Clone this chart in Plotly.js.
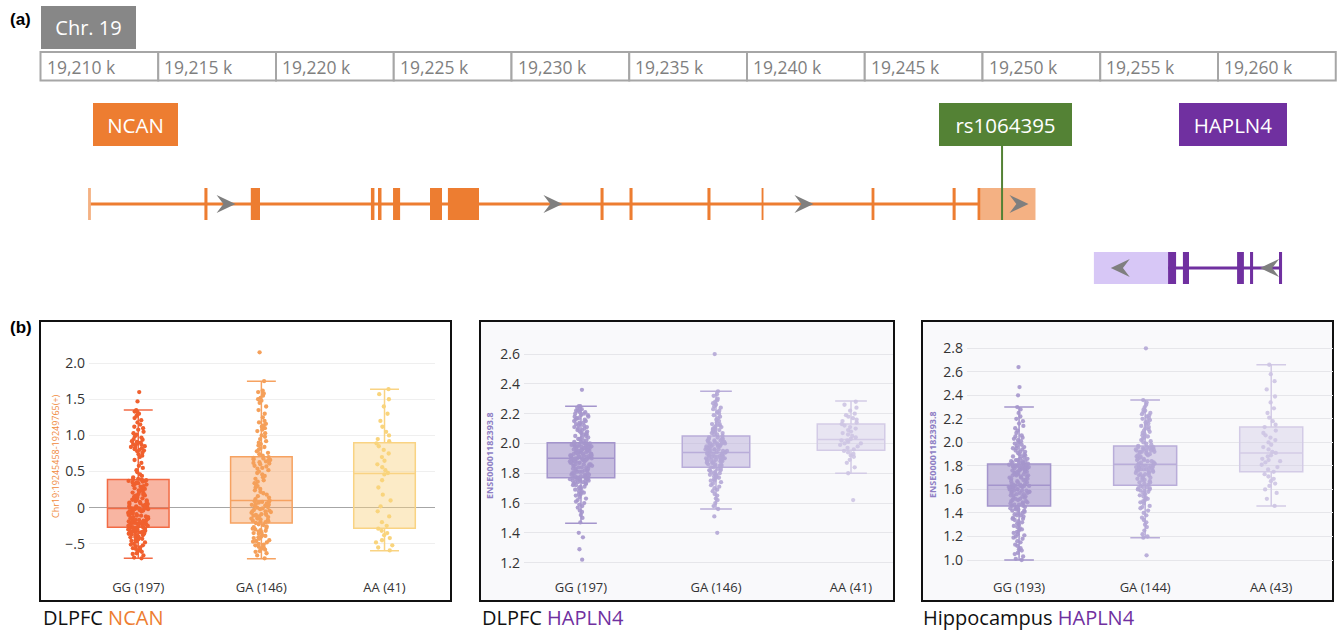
<!DOCTYPE html>
<html><head><meta charset="utf-8">
<script src="https://cdn.plot.ly/plotly-3.0.1.min.js"></script>
<style>html,body{margin:0;padding:0;background:#fff}#chart{width:1341px;height:633px}</style>
</head><body><div id="chart"></div>
<script>
// ================= DATA =================
// genomic ruler (kb on chr19)
const rulerTicks = [19210,19215,19220,19225,19230,19235,19240,19245,19250,19255,19260];
const rulerLabels = ["19,210 k","19,215 k","19,220 k","19,225 k","19,230 k","19,235 k","19,240 k","19,245 k","19,250 k","19,255 k","19,260 k"];
const chromLabel = "Chr. 19";

// NCAN gene model (kb)
const ncanIntron = [19212.08, 19249.85];
const ncanExonStart = [19216.96,19218.93,19224.03,19224.33,19224.97,19226.54,19227.30,19233.78,19235.01,19238.32,19240.62,19245.29,19248.73,19249.79];
const ncanExonEnd   = [19217.09,19219.32,19224.18,19224.48,19225.27,19227.05,19228.62,19233.91,19235.14,19238.45,19240.70,19245.41,19248.86,19249.92];
const ncanUtrStart = [19212.02, 19249.92];
const ncanUtrEnd   = [19212.14, 19252.25];
const ncanArrows = [19217.88, 19231.76, 19242.42, 19251.55];   // strand +

// HAPLN4 gene model (kb)
const haplnIntron = [19257.88, 19262.65];
const haplnExonStart = [19257.88,19258.51,19260.81,19261.36,19262.59];
const haplnExonEnd   = [19258.22,19258.77,19261.10,19261.49,19262.72];
const haplnUtrStart = [19254.73];
const haplnUtrEnd   = [19257.88];
const haplnArrows = [19255.85, 19262.19];   // strand -

// SNP
const snpName = "rs1064395";
const snpPos = 19250.83;

// ---- panel 1: DLPFC NCAN ----
const ncanCats = ["GG (197)","GA (146)","AA (41)"];
const ncanQ1  = [-0.27,-0.21,-0.285];
const ncanMed = [-0.01, 0.10, 0.475];
const ncanQ3  = [ 0.39, 0.705, 0.90];
const ncanLo  = [-0.70,-0.705,-0.595];
const ncanHi  = [ 1.35, 1.75, 1.64];
const ncanGG = [-0.70,-0.69,-0.66,-0.64,-0.63,-0.61,-0.60,-0.59,-0.57,-0.56,-0.55,-0.53,-0.52,-0.51,-0.50,-0.48,-0.47,-0.46,-0.45,-0.44,-0.43,-0.42,-0.41,-0.41,-0.40,-0.39,-0.38,-0.38,-0.37,-0.36,-0.36,-0.35,-0.35,-0.34,-0.34,-0.33,-0.33,-0.32,-0.32,-0.31,-0.31,-0.30,-0.30,-0.30,-0.29,-0.29,-0.28,-0.28,-0.27,
-0.27,-0.26,-0.26,-0.25,-0.25,-0.24,-0.24,-0.23,-0.23,-0.22,-0.22,-0.21,-0.21,-0.20,-0.20,-0.19,-0.19,-0.18,-0.18,-0.17,-0.17,-0.16,-0.15,-0.15,-0.14,-0.13,-0.13,-0.12,-0.11,-0.11,-0.10,-0.09,-0.09,-0.08,-0.07,-0.07,-0.06,-0.05,-0.05,-0.04,-0.04,-0.03,-0.03,-0.02,-0.02,-0.01,-0.01,-0.01,0.00,
0.00,0.01,0.02,0.02,0.03,0.04,0.05,0.05,0.06,0.07,0.08,0.08,0.09,0.10,0.11,0.12,0.12,0.13,0.14,0.15,0.16,0.17,0.17,0.18,0.19,0.20,0.21,0.22,0.23,0.24,0.25,0.26,0.27,0.28,0.29,0.30,0.31,0.32,0.33,0.34,0.35,0.35,0.36,0.37,0.37,0.38,0.38,0.39,0.39,
0.40,0.42,0.44,0.46,0.49,0.52,0.55,0.58,0.62,0.66,0.70,0.72,0.74,0.76,0.78,0.79,0.80,0.81,0.82,0.83,0.84,0.85,0.86,0.87,0.88,0.89,0.90,0.91,0.92,0.94,0.95,0.97,0.99,1.01,1.03,1.05,1.08,1.10,1.12,1.15,1.18,1.21,1.24,1.27,1.30,1.32,1.33,1.35,1.47,1.60];
const ncanGA = [-0.70,-0.66,-0.63,-0.61,-0.60,-0.58,-0.57,-0.55,-0.54,-0.52,-0.51,-0.50,-0.48,-0.47,-0.46,-0.45,-0.43,-0.42,-0.41,-0.40,-0.39,-0.38,-0.36,-0.35,-0.34,-0.33,-0.32,-0.31,-0.30,-0.29,-0.28,-0.27,-0.26,-0.24,-0.23,-0.21,
-0.20,-0.19,-0.19,-0.18,-0.17,-0.16,-0.15,-0.15,-0.14,-0.13,-0.12,-0.11,-0.10,-0.10,-0.09,-0.08,-0.07,-0.06,-0.05,-0.05,-0.04,-0.03,-0.02,-0.01,0.00,0.01,0.02,0.03,0.04,0.04,0.05,0.06,0.07,0.08,0.08,0.09,0.10,
0.12,0.14,0.16,0.18,0.20,0.22,0.24,0.26,0.28,0.30,0.32,0.34,0.36,0.38,0.40,0.42,0.44,0.46,0.48,0.50,0.52,0.54,0.55,0.57,0.58,0.60,0.61,0.62,0.63,0.64,0.65,0.66,0.67,0.68,0.69,0.70,
0.72,0.74,0.76,0.78,0.80,0.82,0.84,0.86,0.88,0.90,0.92,0.95,0.98,1.00,1.03,1.06,1.08,1.10,1.12,1.14,1.16,1.18,1.20,1.25,1.30,1.35,1.40,1.45,1.48,1.50,1.52,1.55,1.58,1.60,1.62,1.75,2.15];
const ncanAA = [-0.59,-0.55,-0.52,-0.48,-0.45,-0.42,-0.38,-0.35,-0.32,-0.29,-0.25,-0.20,-0.12,-0.05,0.02,0.10,0.18,0.28,0.38,0.46,0.48,0.52,0.56,0.60,0.65,0.70,0.75,0.80,0.85,0.89,0.92,0.95,1.00,1.05,1.12,1.20,1.30,1.40,1.50,1.57,1.64];

// ---- panel 2: DLPFC HAPLN4 ----
const dlpfcCats = ["GG (197)","GA (146)","AA (41)"];
const dlpfcQ1  = [1.77, 1.84, 1.955];
const dlpfcMed = [1.90, 1.94, 2.027];
const dlpfcQ3  = [2.005, 2.05, 2.13];
const dlpfcLo  = [1.465, 1.56, 1.80];
const dlpfcHi  = [2.25, 2.35, 2.285];
const dlpfcGG = [1.22,1.29,1.37,1.40,1.47,1.50,1.52,1.54,1.55,1.57,1.58,1.59,1.60,1.61,1.62,1.63,1.64,1.65,1.66,1.66,1.67,1.68,1.68,1.69,1.70,1.70,1.71,1.71,1.72,1.72,1.73,1.73,1.73,1.74,1.74,1.74,1.75,1.75,1.75,1.75,1.76,1.76,1.76,1.76,1.77,1.77,1.77,1.77,1.77,
1.78,1.78,1.78,1.79,1.79,1.79,1.80,1.80,1.80,1.81,1.81,1.81,1.82,1.82,1.82,1.83,1.83,1.83,1.84,1.84,1.84,1.85,1.85,1.85,1.85,1.86,1.86,1.86,1.86,1.87,1.87,1.87,1.87,1.88,1.88,1.88,1.88,1.88,1.89,1.89,1.89,1.89,1.89,1.90,1.90,1.90,1.90,1.90,1.90,
1.91,1.91,1.91,1.91,1.91,1.92,1.92,1.92,1.92,1.92,1.93,1.93,1.93,1.93,1.93,1.94,1.94,1.94,1.94,1.94,1.95,1.95,1.95,1.95,1.95,1.96,1.96,1.96,1.96,1.96,1.97,1.97,1.97,1.97,1.97,1.98,1.98,1.98,1.98,1.98,1.99,1.99,1.99,1.99,1.99,2.00,2.00,2.00,2.00,
2.01,2.01,2.02,2.02,2.03,2.03,2.04,2.04,2.05,2.05,2.06,2.06,2.07,2.07,2.08,2.08,2.09,2.09,2.10,2.10,2.11,2.11,2.12,2.12,2.13,2.13,2.14,2.14,2.15,2.15,2.16,2.16,2.17,2.17,2.18,2.18,2.19,2.19,2.20,2.20,2.21,2.21,2.22,2.22,2.23,2.23,2.24,2.25,2.25,2.36];
const dlpfcGA = [1.40,1.51,1.56,1.58,1.60,1.62,1.63,1.65,1.66,1.68,1.69,1.70,1.71,1.72,1.73,1.74,1.75,1.75,1.76,1.77,1.77,1.78,1.78,1.79,1.79,1.80,1.80,1.81,1.81,1.82,1.82,1.82,1.83,1.83,1.84,1.84,
1.85,1.85,1.85,1.86,1.86,1.86,1.87,1.87,1.87,1.88,1.88,1.88,1.88,1.89,1.89,1.89,1.89,1.90,1.90,1.90,1.90,1.91,1.91,1.91,1.91,1.92,1.92,1.92,1.92,1.93,1.93,1.93,1.93,1.94,1.94,1.94,1.94,
1.95,1.95,1.95,1.95,1.96,1.96,1.96,1.96,1.97,1.97,1.97,1.97,1.98,1.98,1.98,1.98,1.99,1.99,1.99,1.99,2.00,2.00,2.00,2.00,2.01,2.01,2.01,2.02,2.02,2.02,2.03,2.03,2.03,2.04,2.04,2.05,
2.06,2.06,2.07,2.07,2.08,2.08,2.09,2.09,2.10,2.10,2.11,2.11,2.12,2.12,2.13,2.13,2.14,2.15,2.16,2.17,2.18,2.19,2.20,2.21,2.22,2.23,2.24,2.25,2.26,2.27,2.28,2.29,2.30,2.32,2.33,2.35,2.60];
const dlpfcAA = [1.62,1.80,1.84,1.87,1.89,1.91,1.92,1.93,1.94,1.95,1.96,1.97,1.98,1.99,2.00,2.00,2.01,2.02,2.02,2.03,2.04,2.05,2.06,2.07,2.08,2.09,2.10,2.11,2.12,2.13,2.14,2.15,2.16,2.17,2.18,2.19,2.20,2.22,2.24,2.26,2.28];

// ---- panel 3: Hippocampus HAPLN4 ----
const hippoCats = ["GG (193)","GA (144)","AA (43)"];
const hippoQ1  = [1.46, 1.635, 1.75];
const hippoMed = [1.635, 1.815, 1.91];
const hippoQ3  = [1.817, 1.97, 2.13];
const hippoLo  = [1.00, 1.19, 1.46];
const hippoHi  = [2.30, 2.36, 2.66];
const hippoGG = [1.00,1.01,1.03,1.05,1.06,1.08,1.09,1.10,1.12,1.13,1.15,1.16,1.18,1.19,1.20,1.21,1.22,1.23,1.24,1.25,1.26,1.27,1.28,1.29,1.30,1.31,1.32,1.33,1.34,1.35,1.35,1.36,1.37,1.38,1.38,1.39,1.40,1.40,1.41,1.42,1.42,1.43,1.43,1.44,1.44,1.45,1.45,1.46,
1.46,1.47,1.47,1.48,1.48,1.49,1.49,1.50,1.50,1.51,1.51,1.52,1.52,1.53,1.53,1.54,1.54,1.55,1.55,1.56,1.56,1.57,1.57,1.57,1.58,1.58,1.58,1.59,1.59,1.59,1.60,1.60,1.60,1.61,1.61,1.61,1.62,1.62,1.62,1.62,1.63,1.63,1.63,1.63,1.63,1.63,1.64,1.64,
1.65,1.65,1.66,1.66,1.67,1.67,1.68,1.68,1.69,1.69,1.70,1.70,1.71,1.71,1.72,1.72,1.72,1.73,1.73,1.73,1.74,1.74,1.74,1.75,1.75,1.75,1.76,1.76,1.76,1.77,1.77,1.77,1.78,1.78,1.78,1.78,1.79,1.79,1.79,1.79,1.80,1.80,1.80,1.80,1.81,1.81,1.81,1.82,
1.82,1.83,1.83,1.83,1.84,1.84,1.84,1.85,1.85,1.86,1.86,1.87,1.88,1.88,1.89,1.90,1.90,1.91,1.92,1.92,1.93,1.94,1.95,1.95,1.96,1.97,1.98,1.99,2.00,2.01,2.02,2.03,2.04,2.05,2.06,2.08,2.10,2.12,2.14,2.16,2.18,2.20,2.22,2.25,2.28,2.30,2.40,2.47,2.64];
const hippoGA = [1.04,1.19,1.20,1.22,1.25,1.28,1.30,1.32,1.34,1.36,1.38,1.40,1.42,1.44,1.45,1.46,1.48,1.49,1.50,1.51,1.52,1.53,1.54,1.55,1.56,1.57,1.58,1.59,1.59,1.60,1.60,1.61,1.61,1.62,1.62,1.63,
1.64,1.65,1.66,1.66,1.67,1.68,1.68,1.69,1.70,1.70,1.71,1.72,1.72,1.73,1.73,1.74,1.74,1.75,1.75,1.76,1.76,1.76,1.77,1.77,1.77,1.78,1.78,1.78,1.79,1.79,1.79,1.80,1.80,1.80,1.81,1.81,
1.82,1.82,1.83,1.83,1.84,1.84,1.85,1.85,1.86,1.86,1.87,1.87,1.88,1.88,1.89,1.89,1.90,1.90,1.91,1.91,1.92,1.92,1.92,1.93,1.93,1.93,1.94,1.94,1.94,1.95,1.95,1.95,1.96,1.96,1.96,1.97,
1.98,1.99,2.00,2.01,2.02,2.03,2.04,2.05,2.06,2.07,2.08,2.09,2.10,2.11,2.12,2.13,2.14,2.15,2.16,2.17,2.18,2.19,2.20,2.21,2.22,2.23,2.24,2.25,2.26,2.27,2.28,2.30,2.32,2.34,2.36,2.80];
const hippoAA = [1.46,1.52,1.57,1.60,1.63,1.65,1.67,1.69,1.71,1.73,1.75,1.77,1.79,1.81,1.83,1.84,1.85,1.86,1.88,1.89,1.91,1.92,1.94,1.96,1.98,2.00,2.02,2.04,2.06,2.08,2.10,2.13,2.15,2.18,2.21,2.25,2.29,2.34,2.39,2.45,2.52,2.58,2.66];

const ncanTickVals = [-0.5,0,0.5,1,1.5,2];
const ncanTickText = ["\u2212.5","0","0.5","1.0","1.5","2.0"];

// ================= STYLE / LAYOUT =================
const W = 1341, H = 633;
const PX = v => v / W, PY = v => 1 - v / H;
const FONT = "Open Sans, sans-serif";
const ORANGE = "#ED7D31", ORANGE_L = "#F4B183", PURPLE = "#7030A0", PURPLE_L = "#D7C7F6", GREEN = "#548235", ARROW = "#7F7F7F";
const kbPerPx = 1 / 23.55;

// genomic track rows (in pixel-like units of the hidden track axis)
const ROW = {rulerTop: 52, rulerBot: 80.5, label: 124.5, ncan: 204, ncanH: 16, hap: 268, hapH: 16};

const shapes = [];
const annotations = [];

// panel frames
const frames = [
  {x0: 40, x1: 451, fill: "#FFFFFF"},
  {x0: 480, x1: 894, fill: "#F9F9FB"},
  {x0: 922, x1: 1333, fill: "#F9F9FB"}
];
frames.forEach(f => shapes.push({type: "rect", xref: "paper", yref: "paper", x0: PX(f.x0), x1: PX(f.x1), y0: PY(601), y1: PY(321),
  line: {color: "#111", width: 2}, fillcolor: f.fill, layer: "below"}));

// ruler
const step = rulerTicks[1] - rulerTicks[0];
rulerTicks.forEach((t, i) => {
  shapes.push({type: "rect", xref: "x", yref: "y", x0: t, x1: t + step, y0: ROW.rulerTop, y1: ROW.rulerBot,
    line: {color: "#A6A6A6", width: 2}, fillcolor: "#FFFFFF"});
  annotations.push({xref: "x", yref: "y", x: t, y: 66.5, xanchor: "left", yanchor: "middle", xshift: 4, showarrow: false,
    text: rulerLabels[i], font: {family: FONT, size: 17.5, color: "#7F7F7F"}});
});

// chromosome label
annotations.push({xref: "x", yref: "y", x: rulerTicks[0] + 47.5 * kbPerPx, y: 27.5, xanchor: "center", yanchor: "middle", showarrow: false, text: chromLabel,
  bgcolor: "#878787", width: 95, height: 43, borderpad: 0, borderwidth: 0, font: {family: FONT, size: 20, color: "#FFFFFF"}});

// gene labels
function geneLabel(x, text, color, w) {
  annotations.push({xref: "x", yref: "y", x: x, y: ROW.label, xanchor: "center", yanchor: "middle", showarrow: false, text: text, bgcolor: color,
    width: w, height: 43, borderpad: 0, borderwidth: 0, font: {family: FONT, size: 20.5, color: "#FFFFFF"}});
}
geneLabel(19214.03, "NCAN", ORANGE, 85);
geneLabel(19250.98, snpName, GREEN, 133);
geneLabel(19260.62, "HAPLN4", PURPLE, 108);

// NCAN model
shapes.push({type: "line", xref: "x", yref: "y", x0: ncanIntron[0], x1: ncanIntron[1], y0: ROW.ncan, y1: ROW.ncan, line: {color: ORANGE, width: 3}});
ncanUtrStart.forEach((s, i) => shapes.push({type: "rect", xref: "x", yref: "y", x0: s, x1: ncanUtrEnd[i], y0: ROW.ncan - ROW.ncanH, y1: ROW.ncan + ROW.ncanH, line: {width: 0}, fillcolor: ORANGE_L}));
ncanExonStart.forEach((s, i) => shapes.push({type: "rect", xref: "x", yref: "y", x0: s, x1: ncanExonEnd[i], y0: ROW.ncan - ROW.ncanH, y1: ROW.ncan + ROW.ncanH, line: {width: 0}, fillcolor: ORANGE}));

// HAPLN4 model
haplnUtrStart.forEach((s, i) => shapes.push({type: "rect", xref: "x", yref: "y", x0: s, x1: haplnUtrEnd[i], y0: ROW.hap - ROW.hapH, y1: ROW.hap + ROW.hapH, line: {width: 0}, fillcolor: PURPLE_L}));
shapes.push({type: "line", xref: "x", yref: "y", x0: haplnIntron[0], x1: haplnIntron[1], y0: ROW.hap, y1: ROW.hap, line: {color: PURPLE, width: 3}});
haplnExonStart.forEach((s, i) => shapes.push({type: "rect", xref: "x", yref: "y", x0: s, x1: haplnExonEnd[i], y0: ROW.hap - ROW.hapH, y1: ROW.hap + ROW.hapH, line: {width: 0}, fillcolor: PURPLE}));

// SNP line
shapes.push({type: "line", xref: "x", yref: "y", x0: snpPos, x1: snpPos, y0: ROW.label + 21.5, y1: ROW.ncan + ROW.ncanH, line: {color: GREEN, width: 2}});

// strand arrows
const aw = 19 * kbPerPx, ah = 9;
function arrow(cx, dir, yc) {
  const tip = cx + dir * aw / 2, back = cx - dir * aw / 2, notch = cx - dir * aw * 0.14;
  shapes.push({type: "path", xref: "x", yref: "y", path: `M${tip},${yc} L${back},${yc - ah} L${notch},${yc} L${back},${yc + ah} Z`, fillcolor: ARROW, line: {width: 0}});
}
ncanArrows.forEach(a => arrow(a, 1, ROW.ncan));
haplnArrows.forEach(a => arrow(a, -1, ROW.hap));

// panel letters
annotations.push({xref: "paper", yref: "paper", x: PX(8), y: PY(19), xanchor: "left", yanchor: "middle", showarrow: false, text: "<b>(a)</b>", font: {family: "Liberation Sans, Arial, sans-serif", size: 17, color: "#000"}});
annotations.push({xref: "paper", yref: "paper", x: PX(8), y: PY(328), xanchor: "left", yanchor: "middle", showarrow: false, text: "<b>(b)</b>", font: {family: "Liberation Sans, Arial, sans-serif", size: 17, color: "#000"}});

// panel titles
const titles = [
  {x: 41, t: "DLPFC <span style='color:" + ORANGE + "'>NCAN</span>"},
  {x: 480, t: "DLPFC <span style='color:" + PURPLE + "'>HAPLN4</span>"},
  {x: 921, t: "Hippocampus <span style='color:" + PURPLE + "'>HAPLN4</span>"}
];
titles.forEach(o => annotations.push({xref: "paper", yref: "paper", x: PX(o.x), y: PY(617), xanchor: "left", yanchor: "middle", showarrow: false, text: o.t, font: {family: FONT, size: 20, color: "#111"}}));

// y-axis titles
annotations.push({xref: "paper", yref: "paper", x: PX(55), y: PY(456), xanchor: "center", yanchor: "middle", showarrow: false, textangle: -90, text: "Chr19:19245458-19249765(+)", font: {family: FONT, size: 9, color: "#F08A3C"}});
annotations.push({xref: "paper", yref: "paper", x: PX(489), y: PY(456), xanchor: "center", yanchor: "middle", showarrow: false, textangle: -90, text: "<b>ENSE00001182393.8</b>", font: {family: FONT, size: 9, color: "#8F7FC4"}});
annotations.push({xref: "paper", yref: "paper", x: PX(933), y: PY(455), xanchor: "center", yanchor: "middle", showarrow: false, textangle: -90, text: "<b>ENSE00001182393.8</b>", font: {family: FONT, size: 9, color: "#8F7FC4"}});

// ================= TRACES =================
const traces = [];
function addPanel(xa, ya, q1, med, q3, lo, hi, groups, boxColors, fillColors, ptColors, ptOpacity) {
  groups.forEach((vals, i) => {
    traces.push({type: "box", xaxis: xa, yaxis: ya, x: [i], q1: [q1[i]], median: [med[i]], q3: [q3[i]], lowerfence: [lo[i]], upperfence: [hi[i]],
      width: 0.5, whiskerwidth: 0.47, boxpoints: false, fillcolor: fillColors[i], line: {color: boxColors[i], width: 1.5},
      hoverinfo: "skip", showlegend: false});
    traces.push({type: "box", xaxis: xa, yaxis: ya, y: vals, x0: i, width: 0.5, boxpoints: "all", jitter: 0.33, pointpos: 0,
      fillcolor: "rgba(0,0,0,0)", line: {color: "rgba(0,0,0,0)", width: 0}, whiskerwidth: 0,
      marker: {color: ptColors[i], size: 4.3, opacity: ptOpacity}, hoverinfo: "skip", showlegend: false});
  });
}
addPanel("x2", "y2", ncanQ1, ncanMed, ncanQ3, ncanLo, ncanHi, [ncanGG, ncanGA, ncanAA],
  ["#F26B45", "#F6A261", "#F9D383"],
  ["rgba(242,107,69,0.5)", "rgba(246,162,97,0.45)", "rgba(249,211,131,0.45)"],
  ["#F0602E", "#F5A05A", "#F9D47C"], 1);
addPanel("x3", "y3", dlpfcQ1, dlpfcMed, dlpfcQ3, dlpfcLo, dlpfcHi, [dlpfcGG, dlpfcGA, dlpfcAA],
  ["#A495CC", "#B9ADD9", "#D3CBE6"],
  ["rgba(164,149,204,0.6)", "rgba(185,173,217,0.5)", "rgba(211,203,230,0.45)"],
  ["#A596CC", "#B4A7D6", "#CDC4E3"], 0.9);
addPanel("x4", "y4", hippoQ1, hippoMed, hippoQ3, hippoLo, hippoHi, [hippoGG, hippoGA, hippoAA],
  ["#A495CC", "#B9ADD9", "#D3CBE6"],
  ["rgba(164,149,204,0.6)", "rgba(185,173,217,0.5)", "rgba(211,203,230,0.45)"],
  ["#A596CC", "#B4A7D6", "#CDC4E3"], 0.9);

const yDom = [PY(578), PY(335)];
const catAxis = (dom, range, cats, anchor) => ({domain: dom, range: range, anchor: anchor, tickvals: [0, 1, 2], ticktext: cats,
  showgrid: false, zeroline: false, showline: false, ticks: "", tickfont: {family: FONT, size: 13, color: "#333"}, fixedrange: true});
const valAxis = (range, anchor, extra, grid) => Object.assign({domain: yDom, range: range, anchor: anchor, showgrid: true, gridcolor: grid,
  gridwidth: 1, zeroline: false, showline: false, ticks: "", ticklabelstandoff: 3, tickfont: {family: FONT, size: 14, color: "#333"}, fixedrange: true}, extra);

const layout = {
  width: W, height: H, margin: {l: 0, r: 0, t: 0, b: 0}, paper_bgcolor: "#FFFFFF", plot_bgcolor: "rgba(0,0,0,0)",
  showlegend: false, boxmode: "overlay", font: {family: FONT},
  xaxis: {domain: [0, 1], range: [rulerTicks[0] - 40.5 * kbPerPx, rulerTicks[0] + 1300.5 * kbPerPx], visible: false, fixedrange: true},
  yaxis: {domain: [0, 1], range: [H, 0], visible: false, fixedrange: true},
  xaxis2: catAxis([PX(89), PX(435)], [-0.40, 2.41], ncanCats, "y2"),
  yaxis2: valAxis([-0.972, 2.389], "x2", {tickvals: ncanTickVals, ticktext: ncanTickText, zeroline: true, zerolinecolor: "#A6A6A6", zerolinewidth: 1.5}, "#EFEFEF"),
  xaxis3: catAxis([PX(524), PX(893)], [-0.422, 2.311], dlpfcCats, "y3"),
  yaxis3: valAxis([1.097, 2.728], "x3", {tickmode: "linear", tick0: 1.2, dtick: 0.2, tickformat: ".1f"}, "#E6E6EA"),
  xaxis4: catAxis([PX(967), PX(1333)], [-0.413, 2.49], hippoCats, "y4"),
  yaxis4: valAxis([0.847, 2.913], "x4", {tickmode: "linear", tick0: 1.0, dtick: 0.2, tickformat: ".1f"}, "#E6E6EA"),
  shapes: shapes, annotations: annotations
};

Plotly.newPlot("chart", traces, layout, {displayModeBar: false, staticPlot: true});
</script></body></html>
